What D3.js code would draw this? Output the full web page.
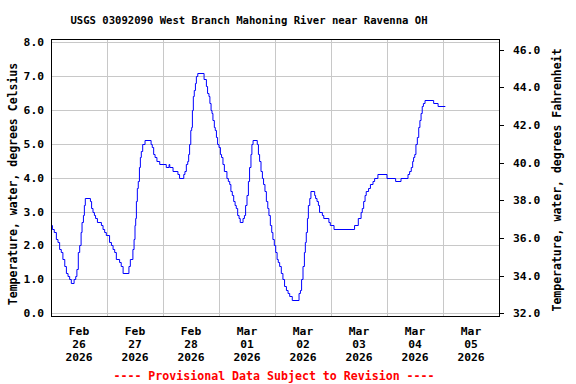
<!DOCTYPE html>
<html>
<head>
<meta charset="utf-8">
<script src="https://cdn.jsdelivr.net/npm/d3@7"></script>
<style>
	body { margin: 0; background: white; }
	text { font-family: 'DejaVu Sans Mono', monospace; font-weight: bold; }
</style>
</head>
<body>
<svg id="chart" width="576" height="384"></svg>
<script>
// hours since 2026-02-26 00:00, water temperature in deg C
const hours = [
	0.3, 0.6, 1.4, 2.3, 3.0, 3.7, 4.4, 5.1, 5.9, 6.6, 7.3, 8.0, 8.7, 9.9, 10.6, 11.1, 11.7, 12.3, 12.9, 13.3,
	13.9, 14.3, 14.7, 16.9, 17.4, 18.0, 18.6, 19.1, 19.9, 21.6, 22.3, 23.0, 23.7, 25.1, 25.9, 26.6, 27.3, 28.0,
	29.4, 30.1, 30.9, 33.4, 34.0, 35.1, 35.6, 36.0, 36.3, 36.6, 37.0, 37.4, 37.9, 38.3, 38.7, 39.3, 40.3, 42.9,
	43.4, 44.0, 44.6, 45.4, 46.6, 49.4, 50.6, 50.9, 52.3, 54.4, 55.1, 56.9, 57.4, 58.0, 58.6, 59.0, 59.4, 59.9,
	60.3, 60.6, 61.0, 61.4, 61.9, 62.3, 62.9, 65.6, 66.6, 67.1, 67.7, 68.1, 68.6, 69.0, 69.4, 70.0, 70.4, 70.9,
	71.4, 72.0, 72.6, 73.1, 73.7, 74.3, 75.4, 76.0, 76.6, 77.1, 77.7, 78.3, 78.9, 79.4, 80.0, 80.6, 81.1, 82.3,
	82.9, 83.4, 84.0, 84.6, 85.1, 85.7, 86.1, 86.6, 88.4, 88.9, 89.4, 90.0, 90.6, 91.1, 91.7, 92.3, 92.9, 93.4,
	94.0, 94.6, 95.1, 95.7, 96.3, 96.9, 97.4, 98.0, 98.7, 99.4, 100.1, 100.9, 101.6, 102.3, 103.4, 106.3, 106.9,
	107.4, 108.0, 108.6, 109.0, 109.4, 109.9, 110.3, 110.9, 111.4, 113.0, 113.4, 114.0, 114.6, 115.1, 116.3,
	116.9, 119.1, 119.7, 121.3, 130.1, 131.7, 132.9, 133.4, 134.0, 134.6, 135.1, 136.1, 136.9, 138.0, 138.7,
	140.1, 144.0, 147.7, 150.0, 153.0, 153.7, 154.4, 155.0, 155.4, 155.9, 156.4, 157.0, 157.6, 158.1, 158.6,
	159.1, 159.6, 160.3, 164.0, 165.9, 169.0
];
const tempC = [
	2.6, 2.5, 2.4, 2.2, 2.1, 1.9, 1.8, 1.6, 1.4, 1.2, 1.1, 1.0, 0.9, 1.0, 1.1, 1.3, 1.8, 2.0, 2.4, 2.7,
	2.9, 3.2, 3.4, 3.3, 3.1, 3.0, 2.9, 2.8, 2.7, 2.6, 2.5, 2.4, 2.3, 2.1, 2.0, 1.9, 1.8, 1.6,
	1.5, 1.4, 1.2, 1.4, 1.6, 1.9, 2.2, 2.6, 2.8, 3.3, 3.7, 3.9, 4.3, 4.6, 4.8, 5.0, 5.1, 5.0,
	4.9, 4.7, 4.6, 4.5, 4.4, 4.3, 4.4, 4.3, 4.2, 4.1, 4.0, 4.1, 4.2, 4.4, 4.5, 4.7, 5.0, 5.4,
	5.5, 6.0, 6.4, 6.6, 6.8, 7.0, 7.1, 6.9, 6.7, 6.5, 6.4, 6.2, 6.0, 5.9, 5.7, 5.5, 5.4, 5.2,
	5.0, 4.9, 4.7, 4.6, 4.4, 4.2, 4.0, 3.9, 3.8, 3.6, 3.5, 3.3, 3.2, 3.1, 2.9, 2.8, 2.7, 2.8,
	2.9, 3.2, 3.5, 3.9, 4.3, 4.7, 5.0, 5.1, 5.0, 4.7, 4.5, 4.2, 4.0, 3.8, 3.6, 3.3, 3.1, 2.9,
	2.6, 2.4, 2.2, 2.0, 1.8, 1.6, 1.5, 1.4, 1.2, 1.0, 0.8, 0.7, 0.6, 0.5, 0.4, 0.6, 0.7,
	1.0, 1.4, 1.8, 2.1, 2.4, 2.8, 3.2, 3.4, 3.6, 3.5, 3.4, 3.3, 3.2, 3.0, 2.9,
	2.8, 2.7, 2.6, 2.5, 2.6, 2.8, 3.0, 3.1, 3.3, 3.5, 3.6, 3.7, 3.8, 3.9, 4.0,
	4.1, 4.0, 3.9, 4.0, 4.1, 4.2, 4.3, 4.5, 4.6, 4.7, 5.0, 5.2, 5.5, 5.7, 5.9,
	6.1, 6.2, 6.3, 6.2, 6.1, 6.1
];
const dayLabels = [
	['Feb', '26', '2026'], ['Feb', '27', '2026'], ['Feb', '28', '2026'], ['Mar', '01', '2026'],
	['Mar', '02', '2026'], ['Mar', '03', '2026'], ['Mar', '04', '2026'], ['Mar', '05', '2026']
];
const celsiusTicks = [0, 1, 2, 3, 4, 5, 6, 7, 8];
const fahrenheitTicks = [32, 34, 36, 38, 40, 42, 44, 46];

const title = 'USGS 03092090 West Branch Mahoning River near Ravenna OH';
const leftLabel = 'Temperature, water, degrees Celsius';
const rightLabel = 'Temperature, water, degrees Fahrenheit';
const footer = '---- Provisional Data Subject to Revision ----';

const HOUR = 3600 * 1000;
const start = Date.UTC(2026, 1, 26);
const data = hours.map((h, i) => ({date: new Date(start + h * HOUR), c: tempC[i]}));

const L = 51, R = 499, T = 39, B = 316;
const svg = d3.select('#chart');

const x = d3.scaleUtc()
	.domain([new Date(start), new Date(start + 8 * 24 * HOUR)])
	.range([L, R]);
const cMin = -0.08, cMax = 8.09;
const y = d3.scaleLinear().domain([cMin, cMax]).range([B, T]);
const yF = d3.scaleLinear().domain([cMin * 1.8 + 32, cMax * 1.8 + 32]).range([B, T]);

// grid
const dayEdges = d3.range(1, 8).map(d => new Date(start + d * 24 * HOUR));
svg.append('g')
	.selectAll('line.h').data(celsiusTicks).enter().append('line')
	.attr('x1', L).attr('x2', R)
	.attr('y1', d => Math.round(y(d)) + 0.5).attr('y2', d => Math.round(y(d)) + 0.5)
	.attr('stroke', '#c8c8c8');
svg.append('g')
	.selectAll('line.v').data(dayEdges).enter().append('line')
	.attr('y1', T).attr('y2', B)
	.attr('x1', d => Math.round(x(d)) + 0.5).attr('x2', d => Math.round(x(d)) + 0.5)
	.attr('stroke', '#c8c8c8');

// data
const line = d3.line()
	.x(d => x(d.date))
	.y(d => Math.round(y(d.c)) + 0.5)
	.curve(d3.curveStepAfter);
svg.append('path')
	.datum(data)
	.attr('d', line)
	.attr('fill', 'none')
	.attr('stroke', '#0000ff')
	.attr('stroke-width', 1);

// frame
svg.append('rect')
	.attr('x', L + 0.5).attr('y', T + 0.5)
	.attr('width', R - L).attr('height', B - T)
	.attr('fill', 'none')
	.attr('stroke', 'black');

// left axis
svg.append('g')
	.selectAll('text').data(celsiusTicks).enter().append('text')
	.attr('x', 44)
	.attr('y', d => y(d) + 4)
	.attr('text-anchor', 'end')
	.style('font-size', '11.3px')
	.text(d3.format('.1f'));

// right axis
const rAxis = svg.append('g');
rAxis.selectAll('line').data(fahrenheitTicks).enter().append('line')
	.attr('x1', R).attr('x2', R + 5)
	.attr('y1', d => Math.round(yF(d)) + 0.5).attr('y2', d => Math.round(yF(d)) + 0.5)
	.attr('stroke', 'black');
rAxis.selectAll('text').data(fahrenheitTicks).enter().append('text')
	.attr('x', 513)
	.attr('y', d => yF(d) + 4)
	.style('font-size', '11.3px')
	.text(d3.format('.1f'));

// day labels at noon
const dayText = svg.append('g')
	.selectAll('text').data(dayLabels).enter().append('text')
	.attr('text-anchor', 'middle')
	.style('font-size', '11.3px');
dayText.selectAll('tspan').data((d, i) => d.map(s => ({s, i}))).enter().append('tspan')
	.attr('x', d => x(new Date(start + (d.i * 24 + 12) * HOUR)))
	.attr('y', (d, j) => 335 + j * 12.8)
	.text(d => d.s);

svg.append('text')
	.attr('x', 249).attr('y', 24)
	.attr('text-anchor', 'middle')
	.style('font-size', '10.6px')
	.text(title);

svg.append('text')
	.attr('transform', 'translate(17,184) rotate(-90)')
	.attr('text-anchor', 'middle')
	.style('font-size', '11.5px')
	.text(leftLabel);

svg.append('text')
	.attr('transform', 'translate(561,180) rotate(-90)')
	.attr('text-anchor', 'middle')
	.style('font-size', '11.5px')
	.text(rightLabel);

svg.append('text')
	.attr('x', 274).attr('y', 380)
	.attr('text-anchor', 'middle')
	.attr('fill', '#ff0000')
	.style('font-size', '11.6px')
	.text(footer);
</script>
</body>
</html>
